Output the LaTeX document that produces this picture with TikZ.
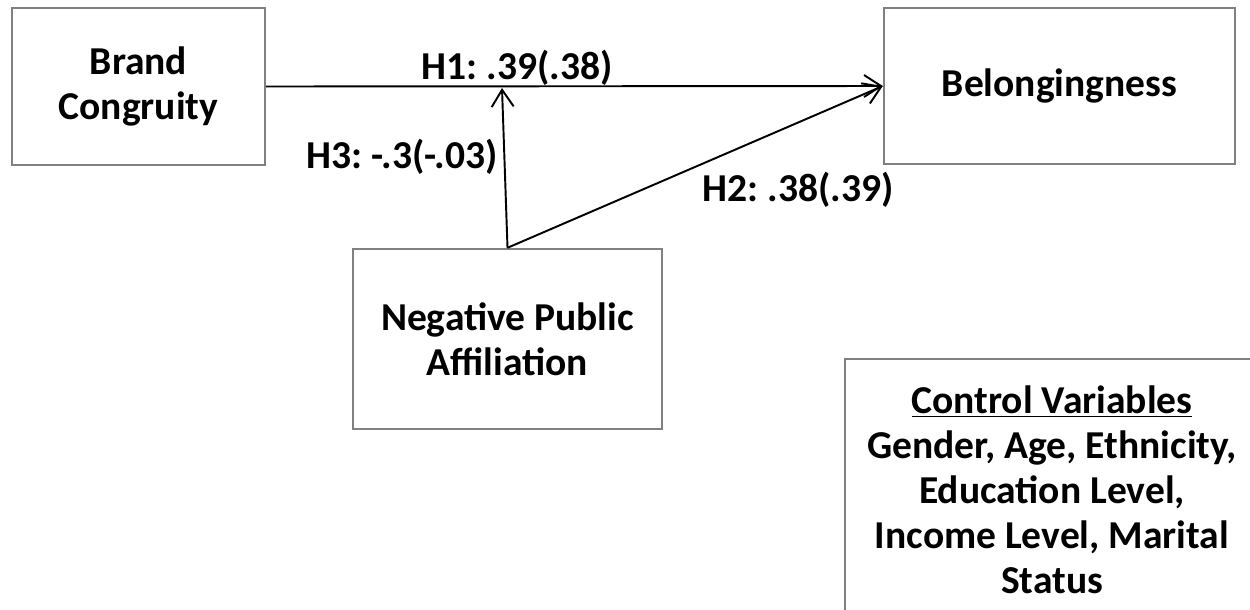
\documentclass[tikz,border=0pt]{standalone}
\usepackage{fontspec}
\setmainfont{Carlito}
\usetikzlibrary{arrows.meta, positioning}
\frenchspacing

\begin{document}
\begin{tikzpicture}[x=0.02cm, y=-0.02cm,
        box/.style={rectangle, draw=black!50, line width=1.4pt, align=center, font=\bfseries\fontsize{22.5}{25.6}\selectfont},
        lbl/.style={inner sep=0pt, font=\bfseries\fontsize{22.5}{25.6}\selectfont},
        link/.style={line width=1.1pt, -{Straight Barb[length=3.4mm, width=4.4mm, line width=1.1pt]}}]
        \useasboundingbox (0,0) rectangle (1250,609);
        \clip (0,0) rectangle (1250,609);

        \node[box, minimum width=5.06cm, minimum height=3.14cm] (bc) at (138.5, 86.5) {Brand\\Congruity};
        \node[box, minimum width=7.02cm, minimum height=3.12cm] (bel) at (1059.5, 86) {Belongingness};
        \node[box, minimum width=6.18cm, minimum height=3.6cm] (npa) at (507.5, 339) {Negative Public\\Affiliation};
        \node[box, minimum width=8.28cm, minimum height=5.24cm] (ctrl) at (1052, 490) {\underline{Control Variables}\\Gender, Age, Ethnicity,\\Education Level,\\Income Level, Marital\\Status};
        \coordinate (mod) at (502, 88);

        \node[lbl] (h1) at (517, 68) {H1: .39(.38)};
        \node[lbl] (h3) at (402, 157) {H3: -.3(-.03)};
        \node[lbl] (h2) at (798, 190) {H2: .38(.39)};

        \draw[link] (bc.east) -- (bel.west);
        \draw[link] (npa.north) -- (mod);
        \draw[link] (npa.north) -- (bel.west);
    \end{tikzpicture}
\end{document}
